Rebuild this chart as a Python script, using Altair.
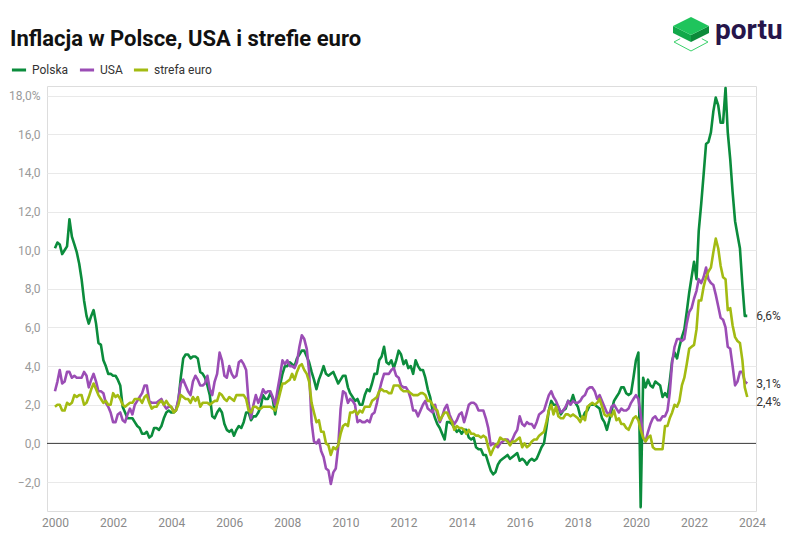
import altair as alt
import pandas as pd

# ---------------- data (monthly, y/y CPI %, Jan 2000 - Nov 2023) ----------------
series_names = ["Polska", "USA", "strefa euro"]
series_colors = ["#0b8c3c", "#9b4db5", "#a3bb12"]

polska = [
    10.1, 10.4, 10.3, 9.8, 10.0, 10.2, 11.6, 10.7, 10.3, 9.9, 9.3, 8.5,
    7.4, 6.6, 6.2, 6.6, 6.9, 6.2, 5.2, 5.1, 4.3, 4.0, 3.6, 3.6,
    3.5, 3.5, 3.3, 3.0, 1.9, 1.6, 1.3, 1.3, 1.3, 1.1, 0.9, 0.8,
    0.5, 0.5, 0.6, 0.3, 0.4, 0.8, 0.8, 0.7, 0.9, 1.3, 1.6, 1.7,
    1.6, 1.6, 1.7, 2.2, 3.4, 4.4, 4.6, 4.6, 4.4, 4.5, 4.5, 4.4,
    3.7, 3.6, 3.4, 3.0, 2.5, 1.4, 1.3, 1.6, 1.8, 1.6, 1.0, 0.7,
    0.6, 0.7, 0.4, 0.7, 0.9, 0.8, 1.1, 1.6, 1.6, 1.2, 1.4, 1.4,
    1.6, 1.9, 2.5, 2.3, 2.3, 2.6, 2.3, 1.5, 2.3, 3.0, 3.6, 4.0,
    4.0, 4.2, 4.1, 4.0, 4.4, 4.6, 4.8, 4.8, 4.5, 4.2, 3.7, 3.3,
    2.8, 3.3, 3.6, 4.0, 3.6, 3.5, 3.6, 3.7, 3.4, 3.1, 3.3, 3.5,
    3.5, 2.9, 2.6, 2.4, 2.2, 2.3, 2.0, 2.0, 2.5, 2.8, 2.7, 3.1,
    3.6, 3.6, 4.3, 4.5, 5.0, 4.2, 4.1, 4.3, 3.9, 4.3, 4.8, 4.6,
    4.1, 4.3, 3.9, 4.0, 3.6, 4.3, 4.0, 3.8, 3.8, 3.4, 2.8, 2.4,
    1.7, 1.3, 1.0, 0.8, 0.5, 0.2, 1.1, 1.1, 1.0, 0.8, 0.6, 0.7,
    0.5, 0.7, 0.7, 0.3, 0.2, 0.3, -0.2, -0.3, -0.3, -0.6, -0.6, -1.0,
    -1.4, -1.6, -1.5, -1.1, -0.9, -0.8, -0.7, -0.6, -0.8, -0.7, -0.6, -0.5,
    -0.9, -0.8, -0.9, -1.1, -0.9, -0.8, -0.9, -0.8, -0.5, -0.2, 0.0, 0.8,
    1.7, 2.2, 2.0, 2.0, 1.9, 1.5, 1.7, 1.8, 2.2, 2.1, 2.5, 2.1,
    1.9, 1.4, 1.3, 1.6, 1.7, 2.0, 2.0, 2.0, 1.9, 1.8, 1.3, 1.1,
    0.7, 1.2, 1.7, 2.2, 2.4, 2.6, 2.9, 2.9, 2.6, 2.5, 2.6, 3.4,
    4.3, 4.7, -3.3, 3.4, 2.9, 3.3, 3.0, 2.9, 3.2, 3.1, 3.0, 2.4,
    2.6, 2.4, 3.2, 4.3, 4.7, 4.4, 5.0, 5.5, 5.9, 6.8, 7.8, 8.6,
    9.4, 8.5, 11.0, 12.4, 13.9, 15.5, 15.6, 16.1, 17.2, 17.9, 17.5, 16.6,
    16.6, 18.4, 16.1, 14.7, 13.0, 11.5, 10.8, 10.1, 8.2, 6.6, 6.6,
]

usa = [
    2.7, 3.2, 3.8, 3.1, 3.2, 3.7, 3.7, 3.4, 3.5, 3.4, 3.4, 3.4,
    3.7, 3.5, 2.9, 3.3, 3.6, 3.2, 2.7, 2.7, 2.6, 2.1, 1.9, 1.6,
    1.1, 1.1, 1.5, 1.6, 1.2, 1.1, 1.5, 1.8, 1.5, 2.0, 2.2, 2.4,
    2.6, 3.0, 3.0, 2.2, 2.1, 2.1, 2.1, 2.2, 2.3, 2.0, 1.8, 1.9,
    1.9, 1.7, 1.7, 2.3, 3.1, 3.3, 3.0, 2.7, 2.5, 3.2, 3.5, 3.3,
    3.0, 3.0, 3.1, 3.5, 2.8, 2.5, 3.2, 3.6, 4.7, 4.3, 3.5, 3.4,
    4.0, 3.6, 3.4, 3.5, 4.2, 4.3, 4.1, 3.8, 2.1, 1.3, 2.0, 2.5,
    2.1, 2.4, 2.8, 2.6, 2.7, 2.7, 2.4, 2.0, 2.8, 3.5, 4.3, 4.1,
    4.3, 4.0, 4.0, 3.9, 4.2, 5.0, 5.6, 5.4, 4.9, 3.7, 1.1, 0.1,
    0.0, 0.2, -0.4, -0.7, -1.3, -1.4, -2.1, -1.5, -1.3, -0.2, 1.8, 2.7,
    2.6, 2.1, 2.3, 2.2, 2.0, 1.1, 1.2, 1.1, 1.1, 1.2, 1.1, 1.5,
    1.6, 2.1, 2.7, 3.2, 3.6, 3.6, 3.6, 3.8, 3.9, 3.5, 3.4, 3.0,
    2.9, 2.9, 2.7, 2.3, 1.7, 1.7, 1.4, 1.7, 2.0, 2.2, 1.8, 1.7,
    1.6, 2.0, 1.5, 1.1, 1.4, 1.8, 2.0, 1.5, 1.2, 1.0, 1.2, 1.5,
    1.6, 1.1, 1.5, 2.0, 2.1, 2.1, 2.0, 1.7, 1.7, 1.7, 1.3, 0.8,
    -0.1, 0.0, -0.1, -0.2, 0.0, 0.1, 0.2, 0.2, 0.0, 0.2, 0.5, 0.7,
    1.4, 1.0, 0.9, 1.1, 1.0, 1.0, 0.8, 1.1, 1.5, 1.6, 1.7, 2.1,
    2.5, 2.7, 2.4, 2.2, 1.9, 1.6, 1.7, 1.9, 2.2, 2.0, 2.2, 2.1,
    2.1, 2.2, 2.4, 2.5, 2.8, 2.9, 2.9, 2.7, 2.3, 2.5, 2.2, 1.9,
    1.6, 1.5, 1.9, 2.0, 1.8, 1.6, 1.8, 1.7, 1.7, 1.8, 2.1, 2.3,
    2.5, 2.3, 1.5, 0.3, 0.1, 0.6, 1.0, 1.3, 1.4, 1.2, 1.2, 1.4,
    1.4, 1.7, 2.6, 4.2, 5.0, 5.4, 5.4, 5.3, 5.4, 6.2, 6.8, 7.0,
    7.5, 7.9, 8.5, 8.3, 8.6, 9.1, 8.5, 8.3, 8.2, 7.7, 7.1, 6.5,
    6.4, 6.0, 5.0, 4.9, 4.0, 3.0, 3.2, 3.7, 3.7, 3.2, 3.1,
]

strefa_euro = [
    1.9, 2.0, 2.0, 1.7, 1.7, 2.1, 2.0, 2.1, 2.5, 2.4, 2.5, 2.5,
    2.0, 2.1, 2.4, 2.8, 3.1, 2.8, 2.5, 2.3, 2.1, 2.2, 2.0, 2.0,
    2.6, 2.4, 2.5, 2.3, 2.0, 1.9, 2.0, 2.1, 2.1, 2.3, 2.3, 2.3,
    2.1, 2.4, 2.5, 2.1, 1.8, 1.9, 1.9, 2.1, 2.2, 2.0, 2.2, 2.0,
    1.9, 1.6, 1.7, 2.0, 2.5, 2.4, 2.3, 2.3, 2.1, 2.4, 2.2, 2.4,
    1.9, 2.1, 2.1, 2.1, 2.0, 2.1, 2.2, 2.2, 2.6, 2.5, 2.3, 2.2,
    2.4, 2.3, 2.2, 2.5, 2.5, 2.5, 2.5, 2.3, 1.7, 1.6, 1.9, 1.9,
    1.8, 1.8, 1.9, 1.9, 1.9, 1.9, 1.8, 1.7, 2.1, 2.6, 3.1, 3.1,
    3.2, 3.3, 3.6, 3.3, 3.7, 4.0, 4.1, 3.8, 3.6, 3.2, 2.1, 1.6,
    1.1, 1.2, 0.6, 0.6, 0.0, -0.1, -0.6, -0.2, -0.3, -0.1, 0.5, 0.9,
    1.0, 0.9, 1.6, 1.6, 1.7, 1.5, 1.7, 1.6, 1.9, 1.9, 1.9, 2.2,
    2.3, 2.4, 2.7, 2.8, 2.7, 2.7, 2.6, 2.6, 3.0, 3.0, 3.0, 2.8,
    2.7, 2.7, 2.7, 2.6, 2.5, 2.5, 2.5, 2.6, 2.6, 2.5, 2.2, 2.2,
    2.0, 1.8, 1.7, 1.2, 1.4, 1.6, 1.6, 1.3, 1.1, 0.7, 0.9, 0.8,
    0.8, 0.7, 0.5, 0.7, 0.5, 0.5, 0.4, 0.4, 0.3, 0.4, 0.3, -0.2,
    -0.6, -0.3, -0.1, 0.0, 0.3, 0.2, 0.2, 0.1, -0.1, 0.1, 0.1, 0.2,
    0.3, -0.2, 0.0, -0.2, -0.1, 0.1, 0.2, 0.2, 0.4, 0.5, 0.6, 1.1,
    1.7, 2.0, 1.5, 1.9, 1.4, 1.3, 1.3, 1.5, 1.5, 1.4, 1.5, 1.4,
    1.3, 1.1, 1.4, 1.2, 1.9, 2.0, 2.1, 2.0, 2.1, 2.3, 1.9, 1.5,
    1.4, 1.5, 1.4, 1.7, 1.2, 1.3, 1.0, 1.0, 0.8, 0.7, 1.0, 1.3,
    1.4, 1.2, 0.7, 0.3, 0.1, 0.3, 0.4, -0.2, -0.3, -0.3, -0.3, -0.3,
    0.9, 0.9, 1.3, 1.6, 2.0, 1.9, 2.2, 3.0, 3.4, 4.1, 4.9, 5.0,
    5.1, 5.9, 7.4, 7.4, 8.1, 8.6, 8.9, 9.1, 9.9, 10.6, 10.1, 9.2,
    8.6, 8.5, 6.9, 7.0, 6.1, 5.5, 5.3, 5.2, 4.3, 2.9, 2.4,
]

end_labels = ["6,6%", "3,1%", "2,4%"]
y_ticks = [-2, 0, 2, 4, 6, 8, 10, 12, 14, 16, 18]
x_tick_years = [2000, 2002, 2004, 2006, 2008, 2010, 2012, 2014, 2016, 2018, 2020, 2022, 2024]
title_text = "Inflacja w Polsce, USA i strefie euro"
logo_text = "portu"

# ---------------- build tables ----------------
dates = pd.date_range("2000-01-01", periods=len(polska), freq="MS")
rows = []
for name, vals in zip(series_names, [polska, usa, strefa_euro]):
    for d, v in zip(dates, vals):
        rows.append({"data": d.strftime("%Y-%m-%d"), "seria": name, "wartosc": v})
df = pd.DataFrame(rows)

last = pd.DataFrame({
    "data": [dates[-1].strftime("%Y-%m-%d")] * 3,
    "seria": series_names,
    "wartosc": [polska[-1], usa[-1], strefa_euro[-1]],
    "etykieta": end_labels,
})

FONT = "Roboto"
TITLE_FONT = "'Liberation Sans Narrow', 'Roboto'"

x_scale = alt.Scale(domain=[alt.DateTime(year=1999, month=9, date=23),
                            alt.DateTime(year=2024, month=2, date=19)])
y_scale = alt.Scale(domain=[-3.5, 18.5], nice=False, zero=False)

x_enc = alt.X("data:T", scale=x_scale, title=None,
              axis=alt.Axis(values=[alt.DateTime(year=y, month=1, date=1) for y in x_tick_years],
                            format="%Y", grid=False, domain=False, ticks=False,
                            labelColor="#8a8a8a", labelFont=FONT, labelFontSize=12,
                            labelPadding=6))
y_enc = alt.Y("wartosc:Q", scale=y_scale, title=None,
              axis=alt.Axis(values=y_ticks, domain=False, ticks=False, grid=True,
                            gridColor="#e9e9e9", gridWidth=1,
                            labelColor="#9a9a9a", labelFont=FONT, labelFontSize=12,
                            labelPadding=7,
                            labelExpr="datum.value == 18 ? '18,0%' : replace(format(datum.value, '.1f'), '.', ',')"))

color_enc = alt.Color("seria:N",
                      scale=alt.Scale(domain=series_names, range=series_colors),
                      legend=alt.Legend(title=None, orient="none", direction="horizontal",
                                        legendX=-37, legendY=-25,
                                        symbolType="stroke", symbolStrokeWidth=3,
                                        symbolSize=200, labelFont=FONT, labelFontSize=12,
                                        labelColor="#333333", labelOffset=4,
                                        gridAlign="none", columnPadding=4))

lines = alt.Chart(df).mark_line(strokeWidth=2.6, strokeJoin="round").encode(
    x=x_enc, y=y_enc, color=color_enc,
    order=alt.Order("data:T"),
)

zero = alt.Chart(pd.DataFrame({"v": [0]})).mark_rule(color="#3a3a3a", strokeWidth=1).encode(
    y=alt.Y("v:Q", scale=y_scale)
)

lab_main = alt.Chart(last[last["seria"] != "strefa euro"]).mark_text(
    align="left", baseline="middle", dx=9, font=FONT, fontSize=12, color="#333333"
).encode(x=alt.X("data:T", scale=x_scale), y=alt.Y("wartosc:Q", scale=y_scale), text="etykieta:N")

lab_euro = alt.Chart(last[last["seria"] == "strefa euro"]).mark_text(
    align="left", baseline="middle", dx=9, dy=5, font=FONT, fontSize=12, color="#333333"
).encode(x=alt.X("data:T", scale=x_scale), y=alt.Y("wartosc:Q", scale=y_scale), text="etykieta:N")

# ---------------- title & logo ----------------
one = pd.DataFrame({"a": [0]})
title = alt.Chart(one).mark_text(
    text=title_text, align="left", baseline="alphabetic", font=TITLE_FONT,
    fontSize=22, fontWeight="bold", color="#111111"
).encode(x=alt.value(-37), y=alt.value(-40))

top_face = "M -1 -0.444 L 0 -0.944 L 1 -0.444 L 0 0.056 Z"
left_face = "M -1 -0.444 L 0 0.056 L 0 0.444 L -1 -0.056 Z"
right_face = "M 0 0.056 L 1 -0.444 L 1 -0.056 L 0 0.444 Z"
outline = "M -0.6 0.26 L -0.944 0.444 L 0 0.944 L 0.944 0.444 L 0.6 0.26"

logo_x, logo_y, logo_size = 644, -52, 1296
logo_layers = [
    alt.Chart(one).mark_point(shape=outline, filled=False, size=logo_size, color="#3ad16b",
                              strokeWidth=1, opacity=1).encode(x=alt.value(logo_x), y=alt.value(logo_y)),
    alt.Chart(one).mark_point(shape=left_face, filled=True, size=logo_size, color="#12a84a",
                              opacity=1, strokeWidth=0).encode(x=alt.value(logo_x), y=alt.value(logo_y)),
    alt.Chart(one).mark_point(shape=right_face, filled=True, size=logo_size, color="#0c8a3a",
                              opacity=1, strokeWidth=0).encode(x=alt.value(logo_x), y=alt.value(logo_y)),
    alt.Chart(one).mark_point(shape=top_face, filled=True, size=logo_size, color="#1fc45c",
                              opacity=1, strokeWidth=0).encode(x=alt.value(logo_x), y=alt.value(logo_y)),
    alt.Chart(one).mark_text(text=logo_text, align="left", baseline="alphabetic", font=FONT,
                             fontSize=28, fontWeight="bold", color="#26154a").encode(
        x=alt.value(668), y=alt.value(-47)),
]

chart = alt.layer(zero, lines, lab_main, lab_euro, title, *logo_layers).properties(
    width=709, height=425,
    autosize=alt.AutoSizeParams(type="none"),
    padding={"left": 39, "top": 78, "right": 36, "bottom": 29},
).configure_view(stroke=None).configure(background="white")

chart.save("out.html", embed_options={"renderer": "svg", "actions": False})
